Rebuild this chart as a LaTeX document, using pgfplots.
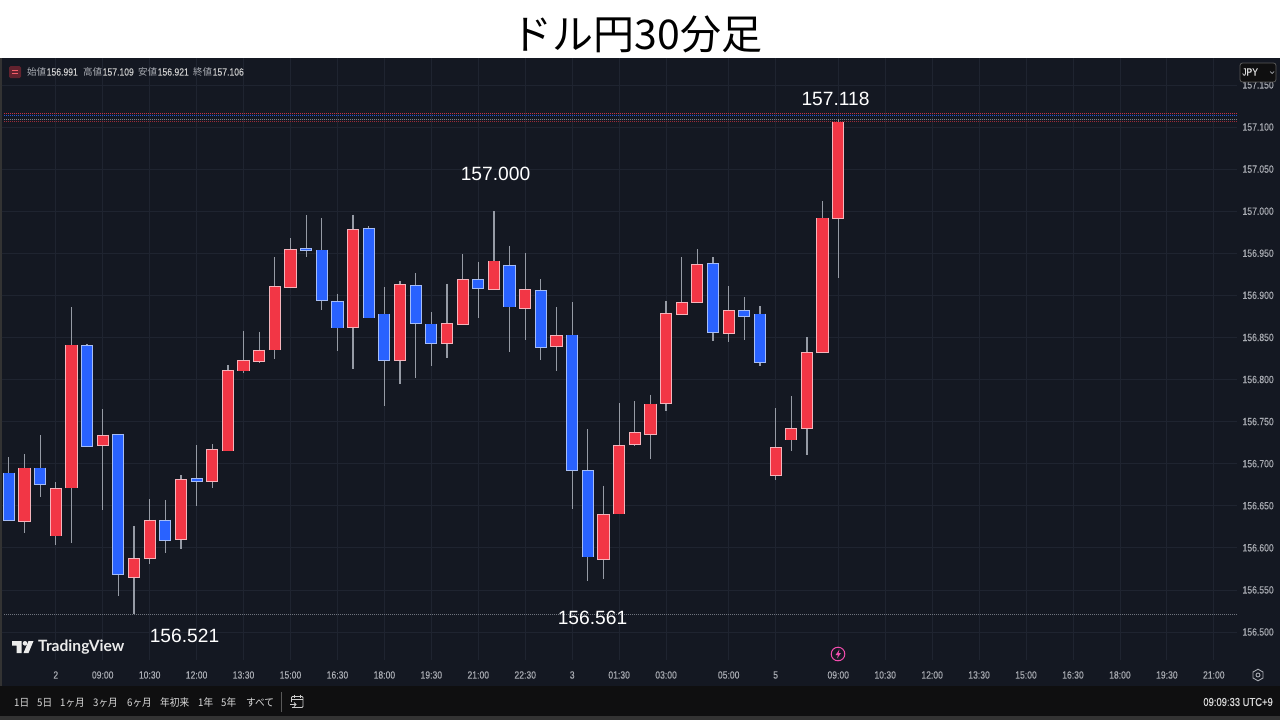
\documentclass[border=0pt]{standalone}
\usepackage{pgfplots}
\usepackage{pgfplotstable}
\usepackage{fontspec}
\pgfplotsset{compat=1.18}
\setmainfont{Liberation Sans}
\newfontfamily\tv[FakeStretch=0.82,FakeBold=0.25]{Liberation Sans}
\newfontfamily\cjk{Noto Sans CJK JP}
\newfontfamily\cjksmall[FakeStretch=0.92]{Noto Sans CJK JP}
\newfontfamily\logofont{Lato}

\definecolor{pane}{HTML}{141822}
\definecolor{gridc}{HTML}{1F2430}
\definecolor{tick}{HTML}{A8ABB2}
\definecolor{barred}{HTML}{F23645}
\definecolor{barblue}{HTML}{2962FF}
\definecolor{edgered}{HTML}{F5B4BB}
\definecolor{edgeblue}{HTML}{A6BDF5}
\definecolor{wick}{HTML}{969BA5}
\definecolor{barbg}{HTML}{0F0F10}

% n high low top bottom (price), n=0 is 09:00 on the 2nd
\pgfplotstableread{
n high low top bot
-5 156.711 156.618 156.695 156.631
-3 156.678 156.603 156.671 156.614
-2 156.886 156.606 156.841 156.671
0 156.765 156.645 156.734 156.721
2 156.626 156.521 156.587 156.565
3 156.658 156.581 156.633 156.587
5 156.686 156.599 156.681 156.610
7 156.723 156.671 156.717 156.679
8 156.817 156.715 156.811 156.715
9 156.858 156.808 156.823 156.810
10 156.857 156.820 156.835 156.821
11 156.945 156.824 156.911 156.835
12 156.968 156.909 156.955 156.909
16 156.996 156.812 156.978 156.862
19 156.917 156.795 156.913 156.822
22 156.914 156.825 156.867 156.843
23 156.949 156.865 156.919 156.865
25 157.000 156.907 156.941 156.907
27 156.950 156.847 156.907 156.884
29 156.886 156.810 156.852 156.839
32 156.674 156.563 156.640 156.586
33 156.772 156.640 156.722 156.640
34 156.774 156.721 156.737 156.723
35 156.782 156.706 156.771 156.735
36 156.893 156.763 156.879 156.771
37 156.945 156.877 156.892 156.877
38 156.955 156.891 156.937 156.891
40 156.911 156.845 156.882 156.855
43 156.766 156.680 156.719 156.686
44 156.780 156.715 156.742 156.728
45 156.850 156.710 156.832 156.742
46 157.012 156.832 156.992 156.832
47 157.109 156.921 157.106 156.991
}\upbars

\pgfplotstableread{
n high low top bot
-6 156.708 156.632 156.689 156.632
-4 156.734 156.660 156.695 156.675
-1 156.842 156.720 156.840 156.720
1 156.735 156.543 156.735 156.568
4 156.657 156.594 156.633 156.609
6 156.722 156.650 156.682 156.679
13 156.995 156.945 156.956 156.953
14 156.992 156.883 156.954 156.894
15 156.902 156.834 156.893 156.861
17 156.982 156.873 156.980 156.873
18 156.910 156.769 156.878 156.822
20 156.926 156.802 156.912 156.866
21 156.880 156.816 156.866 156.843
24 156.940 156.873 156.919 156.908
26 156.959 156.833 156.936 156.886
28 156.919 156.823 156.906 156.838
30 156.892 156.646 156.853 156.692
31 156.741 156.561 156.692 156.589
39 156.945 156.846 156.938 156.856
41 156.898 156.847 156.882 156.875
42 156.887 156.816 156.878 156.820
}\downbars

\newcommand{\candles}[3]{%
  \addplot[draw=none, forget plot, error bars/.cd, y dir=minus, y explicit, error mark=none,
    error bar style={solid, draw=wick, line width=1.2pt}]
    table[x=n, y=high, y error minus expr=\thisrow{high}-\thisrow{low}] {#1};
  \addplot[draw=none, forget plot, error bars/.cd, y dir=minus, y explicit, error mark=none,
    error bar style={solid, draw=#3, line width=12.2pt}]
    table[x=n, y expr=\thisrow{top}+0.0004, y error minus expr=\thisrow{top}-\thisrow{bot}+0.0008] {#1};
  \addplot[draw=none, forget plot, error bars/.cd, y dir=minus, y explicit, error mark=none,
    error bar style={solid, draw=#2, line width=10.2pt}]
    table[x=n, y expr=\thisrow{top}-0.0006, y error minus expr=\thisrow{top}-\thisrow{bot}-0.0012] {#1};
}

\begin{document}
\begin{tikzpicture}
\useasboundingbox (0,0) rectangle (1280pt,-720pt);

\begin{scope}[x=1pt,y=-1pt]
\fill[white] (0,0) rectangle (1280,58);
\fill[pane] (0,58) rectangle (1280,686);
\fill[barbg] (0,686) rectangle (1280,716);
\fill[black!80] (0,716) rectangle (1280,720);
\fill[black!80] (0,58) rectangle (2,686);
\node[text=black, font=\cjk\fontsize{41}{45}\selectfont, anchor=center] at (637,34.5) {ドル円30分足};
\end{scope}

\begin{axis}[
  at={(2pt,-660pt)}, anchor=south west,
  scale only axis, width=1235pt, height=602pt,
  xmin=-6.435, xmax=72.484, ymin=156.4667, ymax=157.182,
  axis line style={draw=none},
  major tick length=0pt,
  grid=major, major grid style={gridc, line width=0.8pt},
  xtick={-3,0,3,6,9,12,15,18,21,24,27,30,33,36,40,43,47,50,53,56,59,62,65,68,71},
  xticklabels={2,09:00,10:30,12:00,13:30,15:00,16:30,18:00,19:30,21:00,22:30,3,01:30,03:00,05:00,5,09:00,10:30,12:00,13:30,15:00,16:30,18:00,19:30,21:00},
  xticklabel style={font=\tv\fontsize{10.5}{12}\selectfont, text=tick, anchor=center, yshift=-15pt},
  ytick={156.5,156.55,156.6,156.65,156.7,156.75,156.8,156.85,156.9,156.95,157,157.05,157.1,157.15},
  scaled y ticks=false,
  yticklabel pos=right,
  yticklabel style={font=\tv\fontsize{10.5}{12}\selectfont, text=tick, anchor=west, xshift=2pt,
    /pgf/number format/.cd, fixed, fixed zerofill, precision=3, 1000 sep={}, assume math mode=true},
]
% dotted price lines
\addplot[forget plot, draw=barred!80!pane, dash pattern=on 1pt off 1pt, line width=1.1pt] coordinates {(-6.3,157.1163) (72.5,157.1163)};
\addplot[forget plot, draw=barblue!80!pane, dash pattern=on 1pt off 1pt, line width=1.1pt] coordinates {(-6.3,157.1137) (72.5,157.1137)};
\addplot[forget plot, draw=wick!80!pane, dash pattern=on 1pt off 1pt, line width=0.9pt] coordinates {(-6.3,157.1089) (72.5,157.1089)};
\addplot[forget plot, draw=barred!60!pane, dash pattern=on 1pt off 1pt, line width=1pt] coordinates {(-6.3,157.1065) (72.5,157.1065)};
\addplot[forget plot, draw=wick!70!pane, dash pattern=on 1pt off 1pt, line width=0.8pt] coordinates {(-6.3,156.5208) (72.5,156.5208)};

\candles{\upbars}{barred}{edgered}
\candles{\downbars}{barblue}{edgeblue}
\end{axis}

\begin{scope}[x=1pt,y=-1pt]
% value labels
\foreach \x/\y/\t in {835.5/98.5/157.118, 495.5/173.5/157.000, 184.5/635.5/156.521, 592.5/617.5/156.561}
  \node[text=white, font=\fontsize{19.2}{22}\selectfont, inner sep=0pt] at (\x,\y) {\t};

% OHLC legend
\fill[barred!35!pane, rounded corners=1.5pt] (9,66) rectangle (21,78);
\draw[barred!80!white, line width=0.7pt] (12,70.5) -- (18,70.5) (12,73.5) -- (18,73.5);
\foreach \x/\a/\b in {27/始値/156.991, 83/高値/157.109, 138/安値/156.921, 193/終値/157.106}{
  \node[anchor=west, inner sep=0pt, text=tick, font=\cjk\fontsize{9.5}{11}\selectfont] at (\x,72) {\a};
  \node[anchor=west, inner sep=0pt, text=black!20, font=\tv\fontsize{10.5}{12}\selectfont] at (\x+19.5,72) {\b};
}

% currency button
\fill[barbg, draw=black!65!white, rounded corners=2.5pt, line width=0.8pt] (1240,63) rectangle (1276,82);
\node[anchor=west, inner sep=0pt, text=black!15, font=\tv\fontsize{10.5}{12}\selectfont] at (1242,72) {JPY};
\draw[tick, line width=0.7pt] (1270,71.5) -- (1272,73.5) -- (1274,71.5);

% TradingView mark
\fill[black!8] (12,641) -- (21.5,641) -- (21.5,653) -- (16.5,653) -- (16.5,645.5) -- (12,645.5) -- cycle;
\fill[black!8] (25,643.3) circle (2.3);
\fill[black!8] (28.5,641) -- (33.5,641) -- (28.5,653) -- (23.5,653) -- cycle;
\node[anchor=west, inner sep=0pt, text=black!8, font=\logofont\bfseries\fontsize{15.6}{18}\selectfont] at (38,647) {TradingView};

% icons
\draw[magenta!70!white, line width=1pt] (838,654) circle (6.8);
\fill[magenta!70!white] (839.5,649.5) -- (835.5,655) -- (838,655) -- (837,658.5) -- (841,653) -- (838.5,653) -- cycle;
\draw[tick, line width=0.9pt] (1258,669.2) -- (1263,672) -- (1263,678) -- (1258,680.8) -- (1253,678) -- (1253,672) -- cycle;
\draw[tick, line width=0.9pt] (1258,675) circle (2);

% bottom bar
\foreach \x/\t in {14/1日,37/5日,60/1ヶ月,93/3ヶ月,127/6ヶ月,160/年初来,198/1年,221/5年,246/すべて}
  \node[anchor=west, inner sep=0pt, text=black!15, font=\cjksmall\fontsize{10.5}{12}\selectfont] at (\x,702.5) {\t};
\draw[black!65, line width=0.7pt] (281,692) -- (281,712);
\draw[black!20, line width=0.8pt, rounded corners=1pt] (292,707.5) -- (303,707.5) -- (303,696.5) -- (291.5,696.5) -- (291.5,702);
\draw[black!20, line width=0.8pt] (291.5,699.5) -- (303,699.5) (294.5,694.5) -- (294.5,697.5) (300,694.5) -- (300,697.5);
\draw[black!20, line width=0.8pt] (290,704.5) -- (296,704.5) (294,702.5) -- (296,704.5) -- (294,706.5);
\node[anchor=east, inner sep=0pt, text=black!15, font=\tv\fontsize{11.5}{13}\selectfont] at (1273,702) {09:09:33 UTC+9};
\end{scope}
\end{tikzpicture}
\end{document}
